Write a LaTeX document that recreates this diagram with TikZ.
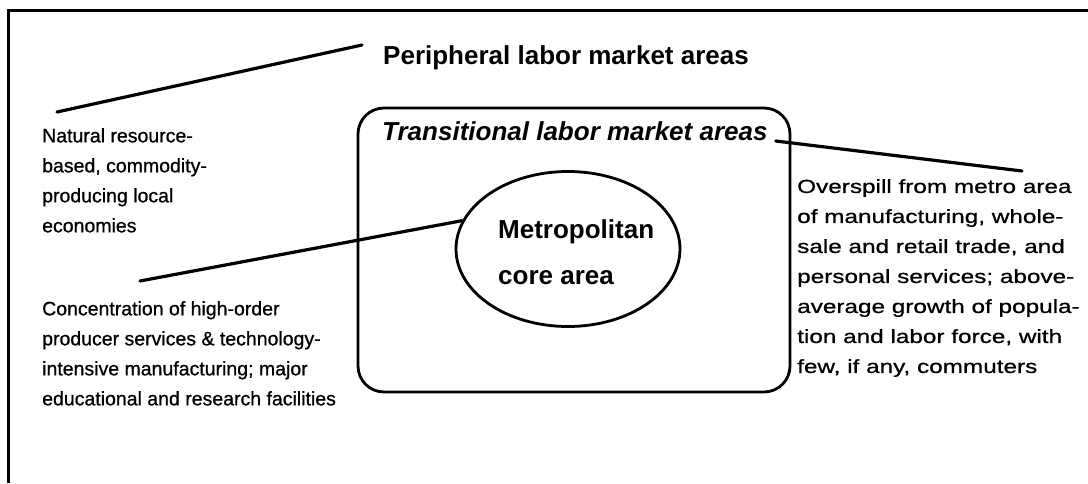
\documentclass[tikz,border=0pt]{standalone}
\usepackage{fontspec}
\setmainfont{Liberation Sans}
\newfontfamily\blurbfont[FakeBold=0.8]{Liberation Sans}
\newfontfamily\widefont[FakeStretch=1.28,FakeBold=0.8]{Liberation Sans}
\usetikzlibrary{shapes.geometric}
\tikzset{
  lead/.style={line width=3.2pt, line cap=round},
  blurb/.style={anchor=north west, inner sep=0pt, align=left, font=\blurbfont\fontsize{19.5}{30}\selectfont},
  heading/.style={anchor=base west, inner sep=0pt, font=\fontsize{26}{30}\selectfont\bfseries},
}
\begin{document}
\begin{tikzpicture}[x=1pt,y=-1pt]
  \useasboundingbox (0,0) rectangle (1088,483);
  % outer frame, only its top and left sides are on the page
  \draw[line width=3pt] (1088,10) -- (8,10) -- (8,483);
  \draw[line width=2.8pt, rounded corners=26pt] (358,108) rectangle (790,392);
  \node[draw, ellipse, line width=2.8pt, minimum width=224pt, minimum height=155pt, inner sep=0pt] (core) at (568,249) {};
  \node[anchor=north west, inner sep=0pt, align=left, font=\fontsize{26}{46}\selectfont\bfseries] (metro) at (498,219) {Metropolitan\\core area};
  \node[heading] (peri) at (383,64) {Peripheral labor market areas};
  \node[heading, font=\fontsize{26}{30}\selectfont\bfseries\itshape] (trans) at (382,140) {Transitional labor market areas};
  \node[blurb] (natural) at (42,128) {Natural resource-\\based, commodity-\\producing local\\economies};
  \node[blurb] (conc) at (42,301) {Concentration of high-order\\producer services \& technology-\\intensive manufacturing; major\\educational and research facilities};
  \node[blurb, font=\widefont\fontsize{19}{30}\selectfont] (spill) at (797,179) {Overspill from metro area\\of manufacturing, whole-\\sale and retail trade, and\\personal services; above-\\average growth of popula-\\tion and labor force, with\\few, if any, commuters};
  % leader lines from the texts to the areas
  \draw[lead] ([shift={(15,-16)}]natural.north west) -- ([shift={(-21,-19)}]peri.base west);
  \draw[lead] ([shift={(8,1)}]trans.base east) -- ([shift={(225,-8)}]spill.north west);
  \draw[lead] ([shift={(98,-20)}]conc.north west) -- (core.165);
\end{tikzpicture}
\end{document}
